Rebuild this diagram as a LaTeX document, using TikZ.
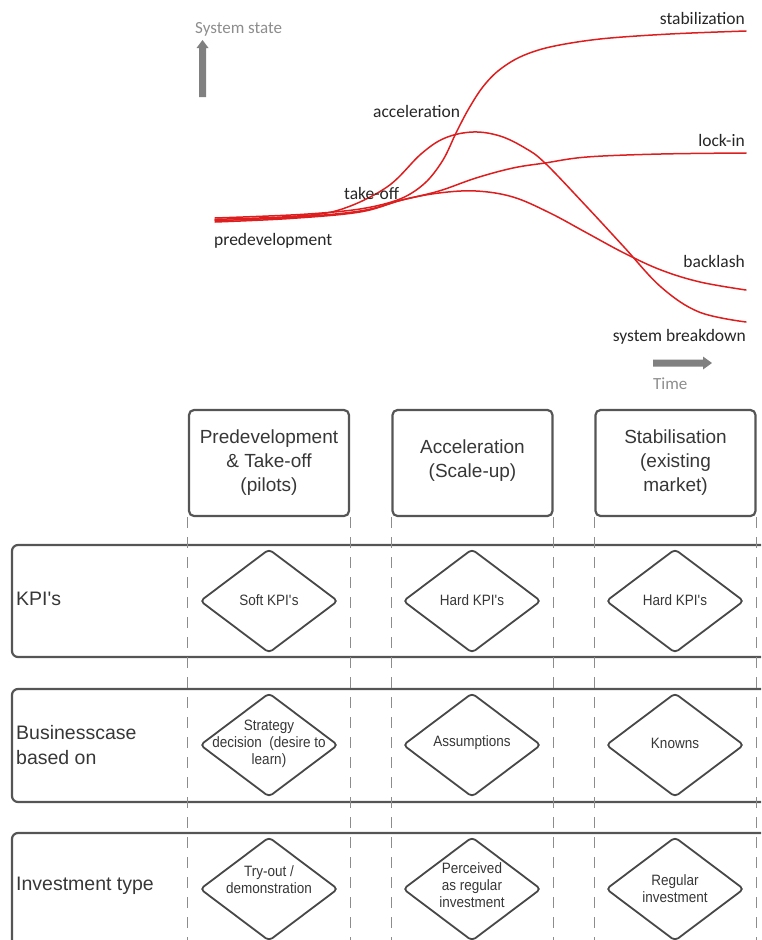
\documentclass[tikz,border=0pt]{standalone}
\usepackage{fontspec}
\setmainfont{Liberation Sans}
\newfontfamily\graphfont{Carlito}
\newfontfamily\cellfont[FakeStretch=0.9]{Liberation Sans}
\usetikzlibrary{shapes.geometric}
\definecolor{curve}{RGB}{222,30,30}
\definecolor{frame}{RGB}{85,85,85}
\definecolor{ink}{RGB}{55,55,55}
\definecolor{axisgray}{RGB}{128,128,128}
\definecolor{guidegray}{RGB}{140,140,140}
\begin{document}
\begin{tikzpicture}[x=1pt,y=-1pt,
  trend/.style={draw=curve, line width=1.5pt, line cap=round},
  glabel/.style={font=\graphfont\fontsize{17.5}{20}\selectfont, text=black!85, inner sep=0pt},
  axislabel/.style={font=\graphfont\fontsize{17}{20}\selectfont, text=axisgray!90, inner sep=0pt},
  phasebox/.style={draw=frame, line width=2.2pt, rounded corners=5pt, minimum width=160pt,
    minimum height=106pt, inner sep=0pt},
  phasetext/.style={align=center, font=\fontsize{19}{24}\selectfont, text=ink, inner sep=0pt},
  rowframe/.style={draw=frame, line width=2.2pt, rounded corners=6pt},
  rowlabel/.style={align=left, font=\fontsize{19.5}{25}\selectfont, text=ink, inner sep=0pt},
  cellshape/.style={diamond, draw=frame!85!black, line width=1.8pt, rounded corners=4pt, fill=white,
    minimum width=138pt, minimum height=104pt, inner sep=0pt},
  celltext/.style={align=center, font=\cellfont\fontsize{15}{17}\selectfont, text=ink, inner sep=0pt},
  guide/.style={draw=guidegray, line width=0.9pt, dash pattern=on 11pt off 9pt}
]
\useasboundingbox (0,0) rectangle (761,940);
\clip (0,0) rectangle (761,940);

% ---------- transition curves ----------
% stabilization
\draw[trend] plot[smooth, tension=0.55] coordinates {(215,218) (300,214.5) (360,209) (400,199) (425,183) (443,160) (456,133) (468,110) (482,88) (498,71) (520,57) (550,47) (600,39) (670,34) (746,31)};
% peak that collapses into system breakdown
\draw[trend] plot[smooth, tension=0.6] coordinates {(215,219.3) (290,216.5) (339,210) (387,187) (421,154) (445,138) (473,132) (500,136) (525,148) (545,163) (587,207) (624,247) (661,287) (699,312) (746,322)};
% lock-in
\draw[trend] plot[smooth, tension=0.6] coordinates {(215,220.6) (290,217.5) (360,211) (402,200) (439,191) (476,178) (513,168) (545,163) (587,157) (661,154) (746,153)};
% backlash
\draw[trend] plot[smooth, tension=0.6] coordinates {(215,222) (290,218.5) (360,212) (402,200) (439,193) (476,191) (513,197) (550,213) (587,233) (624,253) (661,270) (700,282) (746,290)};

% ---------- axes ----------
\fill[axisgray] (199,97) -- (199,48) -- (196.5,48) -- (202.5,40) -- (208.5,48) -- (206,48) -- (206,97) -- cycle;
\fill[axisgray] (653,359.5) -- (703,359.5) -- (703,356.5) -- (712,363) -- (703,369.5) -- (703,366.5) -- (653,366.5) -- cycle;
\node[axislabel, anchor=base west] (yaxis) at (195,33) {System state};
\node[axislabel, anchor=base west] (xaxis) at (653,389) {Time};

% ---------- curve labels ----------
\node[glabel, anchor=base east] (lstab)  at (745,24)  {stabilization};
\node[glabel, anchor=base west] (lacc)   at (373,117) {acceleration};
\node[glabel, anchor=base east] (llock)  at (745,146) {lock-in};
\node[glabel, anchor=base west] (ltake)  at (344,199) {take-off};
\node[glabel, anchor=base west] (lpre)   at (214,245) {predevelopment};
\node[glabel, anchor=base east] (lback)  at (745,267) {backlash};
\node[glabel, anchor=base east] (lbreak) at (746,341) {system breakdown};

% ---------- phase headers ----------
\node[phasebox] (h1) at (269,463) {};
\node[phasebox] (h2) at (472.5,463) {};
\node[phasebox] (h3) at (675.5,463) {};
\node[phasetext] (t1) at (h1) {Predevelopment\\\& Take-off\\(pilots)};
\node[phasetext] (t2) at (472.5,461) {Acceleration\\(Scale-up)};
\node[phasetext] (t3) at (h3) {Stabilisation\\(existing\\market)};

% ---------- rows ----------
\draw[rowframe] (12,545) rectangle (800,657);
\draw[rowframe] (12,689) rectangle (800,802);
\draw[rowframe] (12,833) rectangle (800,990);

% ---------- column guides ----------
\foreach \h in {h1,h2,h3}{
  \draw[guide] (\h.south west) -- (\h.south west |- 0,940);
  \draw[guide] (\h.south east) -- (\h.south east |- 0,940);
}

% ---------- row labels ----------
\node[rowlabel, anchor=west] (r1) at (16,599) {KPI\textquotesingle s};
\node[rowlabel, anchor=west] (r2) at (16,745) {Businesscase\\based on};
\node[rowlabel, anchor=west] (r3) at (16,886) {Investment type};

% ---------- cells ----------
\node[cellshape] (c11) at (269,601) {};
\node[cellshape] (c12) at (472,601) {};
\node[cellshape] (c13) at (675,601) {};
\node[cellshape] (c21) at (269,745) {};
\node[cellshape] (c22) at (472,745) {};
\node[cellshape] (c23) at (675,745) {};
\node[cellshape] (c31) at (269,889) {};
\node[cellshape] (c32) at (472,889) {};
\node[cellshape] (c33) at (675,889) {};

\node[celltext] (x11) at (269,600) {Soft KPI\textquotesingle s};
\node[celltext] (x12) at (472,600) {Hard KPI\textquotesingle s};
\node[celltext] (x13) at (675,600) {Hard KPI\textquotesingle s};
\node[celltext] (x21) at (269,744) {Strategy\\decision~~(desire to\\learn)};
\node[celltext] (x22) at (472,743) {Assumptions};
\node[celltext] (x23) at (675,743) {Knowns};
\node[celltext] (x31) at (269,880) {Try-out /\\demonstration};
\node[celltext] (x32) at (472,885) {Perceived\\as regular\\investment};
\node[celltext] (x33) at (675,889) {Regular\\investment};
\end{tikzpicture}
\end{document}
